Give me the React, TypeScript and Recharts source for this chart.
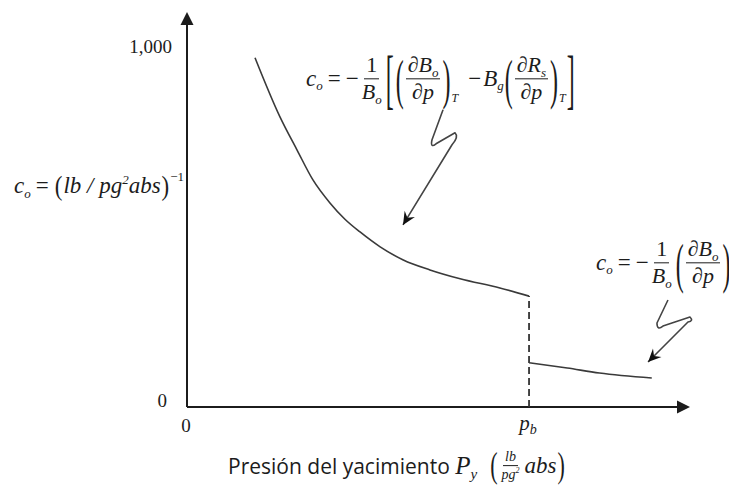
import React from "react";
import { Line, LineChart, ReferenceLine, XAxis, YAxis } from "recharts";

// Oil compressibility vs reservoir pressure: below/above the bubble point
const pressureBelow = [676, 924, 1093, 1252, 1421, 1570, 1720, 1920, 2150, 2415, 2715, 3110, 3400];
const coBelow = [986, 819, 726, 641, 576, 530, 494, 452, 415, 387, 362, 336, 313];
const pressureAbove = [3400, 3780, 4100, 4620];
const coAbove = [125, 110, 96, 82];
const bubblePoint = 3400;
const bubbleCo = 313;

const xTicks = [0, bubblePoint];
const yTicks = [0, 1000];
const xMax = 5000;
const yMax = 1115;

// callout arrows: [start of squiggle, arrow tip] in chart units
const calloutSaturated = [
  { x: 2545, y: 839 },
  { x: 2147, y: 514 },
];
const calloutUndersat = [
  { x: 4781, y: 302 },
  { x: 4583, y: 127 },
];

const below = pressureBelow.map((p, i) => ({ p, co: coBelow[i] }));
const above = pressureAbove.map((p, i) => ({ p, co: coAbove[i] }));

const INK = "#1c1c1c";
const CURVE = "#3a3a3a";
const SERIF = "'Liberation Serif', 'DejaVu Serif', serif";
const SANS = "'Open Sans', 'Noto Sans', sans-serif";

const W = 729;
const H = 477;

// axis line with a filled triangular head at the end point
const axisArrow = (props: any) => {
  const { x1, y1, x2, y2 } = props;
  const a = Math.atan2(y2 - y1, x2 - x1);
  const len = 13;
  const half = 6.5;
  const bx = x2 - len * Math.cos(a);
  const by = y2 - len * Math.sin(a);
  const px = -Math.sin(a) * half;
  const py = Math.cos(a) * half;
  return (
    <g>
      <line x1={x1} y1={y1} x2={bx} y2={by} stroke={INK} strokeWidth={2} />
      <polygon
        points={`${x2},${y2} ${bx + px},${by + py} ${bx - px},${by - py}`}
        fill={INK}
      />
    </g>
  );
};

// hand-drawn style callout: small zig-zag, then a straight run to an arrow head
const squiggleArrow = (bends: number[][]) => (props: any) => {
  const { x1, y1, x2, y2 } = props;
  const [b1, b2, b3, b4] = bends;
  const lx = x1 + b4[0];
  const ly = y1 + b4[1];
  const d =
    `M${x1},${y1} L${x1 + b1[0]},${y1 + b1[1]} ` +
    `Q${x1 + b2[0] - 3},${y1 + b2[1] + 4} ${x1 + b2[0] + 3},${y1 + b2[1] - 1} ` +
    `L${x1 + b3[0]},${y1 + b3[1]} ` +
    `Q${x1 + b3[0] + 4},${y1 + b3[1] + 4} ${lx},${ly} L${x2},${y2}`;
  const a = Math.atan2(y2 - ly, x2 - lx);
  const len = 13;
  const half = 6;
  const bx = x2 - len * Math.cos(a);
  const by = y2 - len * Math.sin(a);
  const nx = x2 - len * 0.65 * Math.cos(a);
  const ny = y2 - len * 0.65 * Math.sin(a);
  const px = -Math.sin(a) * half;
  const py = Math.cos(a) * half;
  return (
    <g>
      <path d={d} fill="none" stroke="#444" strokeWidth={1.6} strokeLinejoin="round" />
      <polygon
        points={`${x2},${y2} ${bx + px},${by + py} ${nx},${ny} ${bx - px},${by - py}`}
        fill="#111"
      />
    </g>
  );
};

const XTick = ({ x, y, payload }: any) => {
  if (payload.value === 0) {
    return (
      <text x={x - 1} y={y + 17} textAnchor="middle" fontFamily={SERIF} fontSize={19} fill={INK}>
        0
      </text>
    );
  }
  return (
    <text x={x - 1} y={y + 15} textAnchor="middle" fontFamily={SERIF} fontSize={21} fill={INK}>
      <tspan fontStyle="italic">p</tspan>
      <tspan fontStyle="italic" fontSize={14} dy={4}>
        b
      </tspan>
    </text>
  );
};

const YTick = ({ x, y, payload }: any) => (
  <text
    x={payload.value === 0 ? x - 12 : x - 7}
    y={y}
    textAnchor="end"
    fontFamily={SERIF}
    fontSize={19}
    fill={INK}
  >
    {payload.value.toLocaleString("en-US")}
  </text>
);

const Frac = ({ num, den, size = 22 }: { num: React.ReactNode; den: React.ReactNode; size?: number }) => (
  <span
    style={{
      display: "inline-flex",
      flexDirection: "column",
      alignItems: "center",
      fontSize: size,
      lineHeight: 1.1,
      margin: "0 1px",
    }}
  >
    <span style={{ borderBottom: `1.4px solid ${INK}`, padding: "0 2px 1px" }}>{num}</span>
    <span style={{ padding: "1px 2px 0" }}>{den}</span>
  </span>
);

const Big = ({ ch, scale = 2.2, size = 24 }: { ch: string; scale?: number; size?: number }) => (
  <span
    style={{
      display: "inline-block",
      fontStyle: "normal",
      fontSize: size,
      transform: `scaleY(${scale})`,
      lineHeight: 1,
      fontWeight: 300,
      margin: "0 1px",
    }}
  >
    {ch}
  </span>
);

const Sub = ({ children, size = 13 }: { children: React.ReactNode; size?: number }) => (
  <span style={{ fontSize: size, position: "relative", top: "0.35em" }}>{children}</span>
);

const LowT = () => <span style={{ alignSelf: "flex-end", fontSize: 12, marginBottom: -2 }}>T</span>;

const eqStyle: React.CSSProperties = {
  position: "absolute",
  display: "flex",
  alignItems: "center",
  fontFamily: SERIF,
  fontStyle: "italic",
  fontSize: 23,
  color: INK,
  whiteSpace: "nowrap",
  transform: "translateY(-50%)",
};

const Co = () => (
  <span>
    c<Sub>o</Sub>
  </span>
);

export default function App() {
  return (
    <div style={{ position: "relative", width: W, height: H, overflow: "hidden", background: "#fff" }}>
      <LineChart width={W} height={H} margin={{ top: 4, right: 47, bottom: 0, left: 0 }}>
        <XAxis
          type="number"
          dataKey="p"
          domain={[0, xMax]}
          ticks={xTicks}
          axisLine={false}
          tickLine={false}
          height={78}
          tick={<XTick />}
          allowDataOverflow
        />
        <YAxis
          type="number"
          domain={[0, yMax]}
          ticks={yTicks}
          axisLine={false}
          tickLine={false}
          width={179}
          tick={<YTick />}
          allowDataOverflow
        />
        <ReferenceLine
          segment={[
            { x: 0, y: 0 },
            { x: xMax, y: 0 },
          ]}
          shape={axisArrow}
        />
        <ReferenceLine
          segment={[
            { x: 0, y: 0 },
            { x: 0, y: yMax },
          ]}
          shape={axisArrow}
        />
        <ReferenceLine
          segment={[
            { x: bubblePoint, y: 0 },
            { x: bubblePoint, y: bubbleCo },
          ]}
          stroke="#333"
          strokeWidth={1.8}
          strokeDasharray="7 4"
        />
        <Line
          data={below}
          dataKey="co"
          type="monotone"
          stroke={CURVE}
          strokeWidth={1.6}
          dot={false}
          isAnimationActive={false}
        />
        <Line
          data={above}
          dataKey="co"
          type="monotone"
          stroke={CURVE}
          strokeWidth={1.6}
          dot={false}
          isAnimationActive={false}
        />
        <ReferenceLine
          segment={calloutSaturated}
          shape={squiggleArrow([
            [-11, 30],
            [-10, 35],
            [12, 23],
            [9, 35],
          ])}
        />
        <ReferenceLine
          segment={calloutUndersat}
          shape={squiggleArrow([
            [-11, 23],
            [-8, 27],
            [22, 17],
            [20, 22],
          ])}
        />
      </LineChart>

      {/* saturated-oil compressibility */}
      <div style={{ ...eqStyle, left: 298, top: 71 }}>
        <Co />
        <span style={{ fontStyle: "normal", margin: "0 5px" }}>=</span>
        <span style={{ fontStyle: "normal" }}>−</span>
        <Frac num={<span style={{ fontStyle: "normal" }}>1</span>} den={<span>B<Sub>o</Sub></span>} />
        <Big ch="[" scale={2.7} />
        <Big ch="(" scale={2.3} />
        <Frac num={<span>∂B<Sub>o</Sub></span>} den="∂p" />
        <Big ch=")" scale={2.3} />
        <LowT />
        <span style={{ fontStyle: "normal", margin: "0 2px 0 10px" }}>−</span>
        <span>
          B<Sub>g</Sub>
        </span>
        <Big ch="(" scale={2.3} />
        <Frac num={<span>∂R<Sub>s</Sub></span>} den="∂p" />
        <Big ch=")" scale={2.3} />
        <LowT />
        <Big ch="]" scale={2.7} />
      </div>

      {/* undersaturated-oil compressibility */}
      <div style={{ ...eqStyle, left: 588, top: 255 }}>
        <Co />
        <span style={{ fontStyle: "normal", margin: "0 5px" }}>=</span>
        <span style={{ fontStyle: "normal" }}>−</span>
        <Frac num={<span style={{ fontStyle: "normal" }}>1</span>} den={<span>B<Sub>o</Sub></span>} />
        <Big ch="(" scale={2.3} />
        <Frac num={<span>∂B<Sub>o</Sub></span>} den="∂p" />
        <Big ch=")" scale={2.3} />
        <LowT />
      </div>

      {/* y-axis units */}
      <div style={{ ...eqStyle, left: 6, top: 178, fontSize: 23 }}>
        <Co />
        <span style={{ fontStyle: "normal", margin: "0 5px" }}>=</span>
        <Big ch="(" scale={1.2} size={23} />
        <span>lb / pg</span>
        <span style={{ fontSize: 13, position: "relative", top: "-0.5em" }}>2</span>
        <span>abs</span>
        <Big ch=")" scale={1.2} size={23} />
        <span style={{ fontSize: 13, position: "relative", top: "-0.7em", fontStyle: "normal" }}>−1</span>
      </div>

      {/* x-axis title */}
      <div
        style={{
          ...eqStyle,
          left: 220,
          top: 458,
          fontFamily: SANS,
          fontStyle: "normal",
          fontSize: 21,
        }}
      >
        <span>Presión del yacimiento&nbsp;</span>
        <span style={{ fontFamily: SERIF, fontStyle: "italic", fontSize: 25 }}>
          P<Sub size={15}>y</Sub>
        </span>
        <span style={{ width: 12 }} />
        <span style={{ display: "flex", alignItems: "center", fontFamily: SERIF, fontStyle: "italic" }}>
          <Big ch="(" scale={1.6} size={22} />
          <Frac num="lb" den={<span>pg<span style={{ fontSize: 8, verticalAlign: "super" }}>2</span></span>} size={14} />
          <span style={{ fontSize: 23, marginLeft: 2 }}>abs</span>
          <Big ch=")" scale={1.6} size={22} />
        </span>
      </div>
    </div>
  );
}
